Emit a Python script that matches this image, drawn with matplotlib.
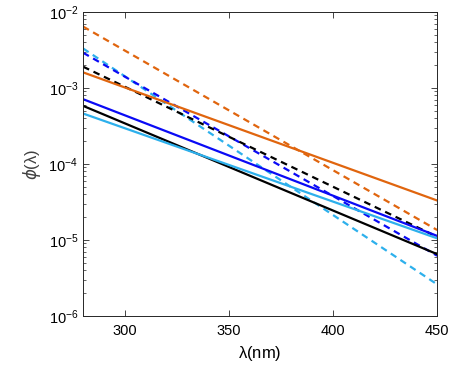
import matplotlib
matplotlib.use("Agg")
import matplotlib.pyplot as plt
from matplotlib.ticker import LogLocator, FixedLocator

plt.rcParams['font.family'] = ['Liberation Sans', 'DejaVu Sans']
plt.rcParams['mathtext.default'] = 'regular'

# wavelength range (nm), lines are straight on the semilog axes
wl = [280, 450]

# phi values at the two ends of each curve
orange_solid = [1.6e-3, 3.3e-5]
orange_dash = [6.4e-3, 1.35e-5]
blue_solid = [7.1e-4, 1.13e-5]
blue_dash = [2.9e-3, 6.2e-6]
black_solid = [5.8e-4, 6.5e-6]
black_dash = [1.9e-3, 1.1e-5]
cyan_solid = [4.6e-4, 1.05e-5]
cyan_dash = [3.3e-3, 2.6e-6]

c_orange = '#E0650E'
c_blue = '#0A0AF5'
c_black = '#000000'
c_cyan = '#2DB0EC'

fig = plt.figure(figsize=(4.54, 3.70), dpi=100)
ax = fig.add_axes([0.183, 0.146, 0.780, 0.822])

lw = 1.6
ds = (0, (3.0, 2.2))
ax.plot(wl, orange_dash, color=c_orange, lw=lw, linestyle=ds)
ax.plot(wl, cyan_dash, color=c_cyan, lw=lw, linestyle=ds)
ax.plot(wl, blue_dash, color=c_blue, lw=lw, linestyle=ds)
ax.plot(wl, black_dash, color=c_black, lw=lw, linestyle=ds)
ax.plot(wl, orange_solid, color=c_orange, lw=lw)
ax.plot(wl, black_solid, color=c_black, lw=lw)
ax.plot(wl, cyan_solid, color=c_cyan, lw=lw)
ax.plot(wl, blue_solid, color=c_blue, lw=lw)

ax.set_yscale('log')
ax.set_xlim(280, 450)
ax.set_ylim(1e-6, 1e-2)
ax.xaxis.set_major_locator(FixedLocator([300, 350, 400, 450]))
ax.yaxis.set_major_locator(LogLocator(base=10, numticks=10))
ax.yaxis.set_minor_locator(LogLocator(base=10, subs=range(2, 10), numticks=20))

ax.tick_params(which='both', direction='in', top=True, right=True,
               color='#262626', labelsize=10.5, labelcolor='black')
ax.tick_params(which='major', length=4, width=0.6)
ax.tick_params(which='minor', length=2, width=0.5)
ax.tick_params(axis='x', pad=6)
for s in ax.spines.values():
    s.set_color('#262626')
    s.set_linewidth(0.7)

ax.set_xlabel(r'$\lambda$(nm)', fontsize=12)
ax.set_ylabel(r'$\it{\phi}$($\lambda$)', fontsize=12, labelpad=4, color='#404040')

fig.savefig('out.png', dpi=100)
